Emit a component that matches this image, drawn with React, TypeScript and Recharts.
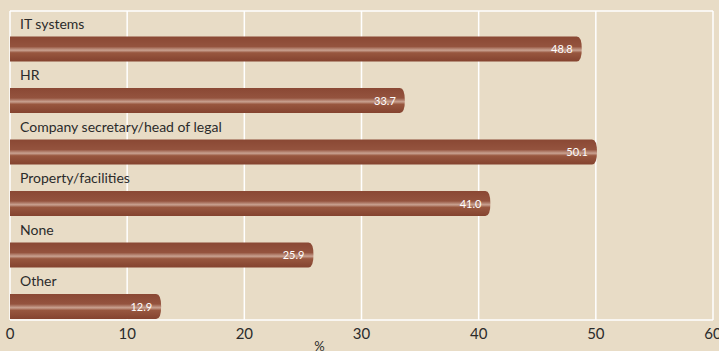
import React from 'react';
import { BarChart, Bar, XAxis, YAxis, CartesianGrid, LabelList } from 'recharts';

const categories = ['IT systems', 'HR', 'Company secretary/head of legal', 'Property/facilities', 'None', 'Other'];
const values = [48.8, 33.7, 50.1, 41.0, 25.9, 12.9];
const xTicks = [0, 10, 20, 30, 40, 50, 60];

const data = categories.map((name, i) => ({ name, value: values[i] }));

const BG = '#e8dcc6';
const SHIFT = 12.5; // bars sit in the lower part of each band

const RoundBar = (props: any) => {
  const { x, y, width, height } = props;
  const top = y + SHIFT;
  const r = 5;
  const w = Math.max(width - r, 0);
  const d = `M${x},${top} H${x + w} Q${x + width},${top} ${x + width},${top + height / 2} Q${x + width},${top + height} ${x + w},${top + height} H${x} Z`;
  return <path d={d} fill="url(#barGrad)" />;
};

const CatLabel = (props: any) => {
  const { y, index } = props;
  return (
    <text x={20} y={y + SHIFT - 8} fontSize={14} fill="#2b2b2b" fontFamily="Lato, sans-serif">
      {categories[index]}
    </text>
  );
};

const ValLabel = (props: any) => {
  const { x, y, width, height, value } = props;
  return (
    <text
      x={x + width - 9}
      y={y + SHIFT + height / 2 + 4}
      fontSize={11}
      fill="#ffffff"
      textAnchor="end"
      fontFamily="Lato, sans-serif"
    >
      {value.toFixed(1)}
    </text>
  );
};

export default function App() {
  return (
    <div style={{ position: 'absolute', left: 0, top: 0, width: 719, height: 351, background: BG }}>
      <BarChart
        width={719}
        height={351}
        layout="vertical"
        data={data}
        margin={{ top: 11, right: 6, left: 10, bottom: 0 }}
        barCategoryGap={0}
      >
        <defs>
          <linearGradient id="barGrad" x1="0" y1="0" x2="0" y2="1">
            <stop offset="0%" stopColor="#8a4834" />
            <stop offset="40%" stopColor="#94533e" />
            <stop offset="55%" stopColor="#c9a291" />
            <stop offset="65%" stopColor="#98573f" />
            <stop offset="100%" stopColor="#84432f" />
          </linearGradient>
        </defs>
        <CartesianGrid
          stroke="#ffffff"
          strokeWidth={1.5}
          horizontalCoordinatesGenerator={() => [11]}
          verticalCoordinatesGenerator={(p: any) => xTicks.map((t) => p.offset.left + (t / 60) * p.offset.width)}
        />
        <XAxis
          type="number"
          domain={[0, 60]}
          ticks={xTicks}
          height={31}
          axisLine={{ stroke: '#ffffff', strokeWidth: 1.5 }}
          tickLine={false}
          tick={{ fill: '#2b2b2b', fontSize: 15, fontFamily: 'Lato, sans-serif' }}
          interval={0}
          label={{ value: '%', position: 'insideBottom', offset: 0, dx: -42, fill: '#2b2b2b', fontSize: 13, fontFamily: 'Lato, sans-serif' }}
        />
        <YAxis type="category" dataKey="name" hide width={0} />
        <Bar dataKey="value" barSize={25} shape={<RoundBar />} isAnimationActive={false}>
          <LabelList dataKey="value" content={<ValLabel />} />
          <LabelList dataKey="name" content={<CatLabel />} />
        </Bar>
      </BarChart>
    </div>
  );
}
